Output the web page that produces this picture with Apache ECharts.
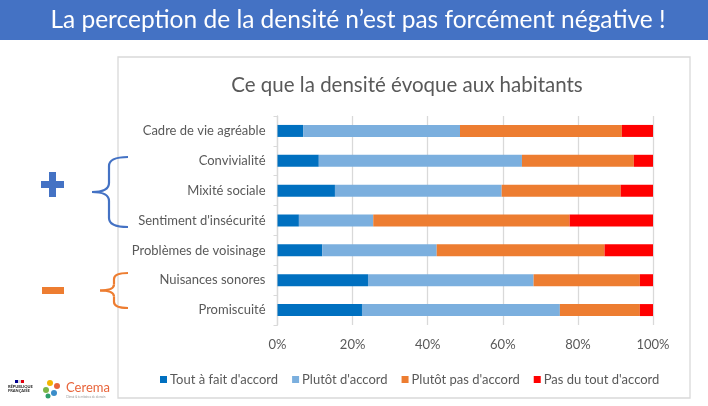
<!DOCTYPE html>
<html>
<head>
<meta charset="utf-8">
<script src="https://cdn.jsdelivr.net/npm/echarts@6/dist/echarts.min.js"></script>
<style>
html,body{margin:0;padding:0;background:#fff;}
#c{width:708px;height:406px;}
</style>
</head>
<body>
<div id="c"></div>
<script>
var categories = ["Cadre de vie agréable","Convivialité","Mixité sociale","Sentiment d'insécurité","Problèmes de voisinage","Nuisances sonores","Promiscuité"];
var seriesNames = ["Tout à fait d'accord","Plutôt d'accord","Plutôt pas d'accord","Pas du tout d'accord"];
var toutAFait = [6.9, 11.0, 15.3, 5.7, 11.9, 24.1, 22.5];
var plutot = [41.7, 54.1, 44.4, 19.8, 30.5, 44.1, 52.7];
var plutotPas = [43.1, 29.8, 31.7, 52.3, 44.7, 28.3, 21.3];
var pasDuTout = [8.3, 5.1, 8.6, 22.2, 12.9, 3.5, 3.5];
var xTicks = [0, 20, 40, 60, 80, 100];
var colors = ["#0070C0","#7BAFDE","#ED7D31","#FF0000"];
var FONT = "Lato, 'Open Sans', sans-serif";
var seriesData = [toutAFait, plutot, plutotPas, pasDuTout];

function brace(xr, xv, xp, y0, y1, color, r) {
  var ym = (y0 + y1) / 2;
  var st = {stroke: color, lineWidth: 2.2, fill: 'none'};
  return [
    {type:'bezierCurve', shape:{x1:xr,y1:y0,x2:xv,y2:y0+r,cpx1:xv,cpy1:y0}, style:st},
    {type:'line', shape:{x1:xv,y1:y0+r,x2:xv,y2:ym-r}, style:st},
    {type:'bezierCurve', shape:{x1:xv,y1:ym-r,x2:xp,y2:ym,cpx1:xv,cpy1:ym}, style:st},
    {type:'bezierCurve', shape:{x1:xp,y1:ym,x2:xv,y2:ym+r,cpx1:xv,cpy1:ym}, style:st},
    {type:'line', shape:{x1:xv,y1:ym+r,x2:xv,y2:y1-r}, style:st},
    {type:'bezierCurve', shape:{x1:xv,y1:y1-r,x2:xr,y2:y1,cpx1:xv,cpy1:y1}, style:st}
  ];
}

var graphics = [
  {type:'rect', shape:{x:0,y:0,width:708,height:40}, style:{fill:'#4472C4'}, z:-1},
  {type:'text', x:358, y:20, style:{text:"La perception de la densité n’est pas forcément négative !", fill:'#fff', font:"24.5px "+FONT, textAlign:'center', textVerticalAlign:'middle'}},
  {type:'rect', shape:{x:118,y:57,width:572,height:341}, style:{fill:'none', stroke:'#D9D9D9', lineWidth:1.3}, z:-1},
  {type:'rect', shape:{x:41,y:181,width:23,height:7}, style:{fill:'#4472C4'}},
  {type:'rect', shape:{x:49,y:172,width:7,height:25}, style:{fill:'#4472C4'}},
  {type:'rect', shape:{x:42,y:287,width:22,height:7}, style:{fill:'#ED7D31'}},
  {type:'rect', shape:{x:15,y:380,width:3,height:3}, style:{fill:'#000091'}},
  {type:'rect', shape:{x:18,y:380,width:3,height:3}, style:{fill:'#dddddd'}},
  {type:'rect', shape:{x:21,y:380,width:3,height:3}, style:{fill:'#E1000F'}},
  {type:'text', x:8, y:385, style:{text:'RÉPUBLIQUE\nFRANÇAISE', fill:'#222', font:'bold 4px '+FONT, lineHeight:4}},
  {type:'circle', shape:{cx:50,cy:383,r:3}, style:{fill:'#F5B400'}},
  {type:'circle', shape:{cx:57,cy:386,r:3}, style:{fill:'#E8643A'}},
  {type:'circle', shape:{cx:46,cy:390,r:3}, style:{fill:'#7AB648'}},
  {type:'circle', shape:{cx:54,cy:393,r:3}, style:{fill:'#3A8DC9'}},
  {type:'circle', shape:{cx:48,cy:396,r:2.5}, style:{fill:'#2E9E6A'}},
  {type:'text', x:66, y:381, style:{text:'Cerema', fill:'#E8643A', font:'13px '+FONT}},
  {type:'text', x:66, y:396, style:{text:'Climat & territoires de demain', fill:'#999', font:'3px '+FONT}}
].concat(brace(128, 109, 92, 157, 227, '#4472C4', 9))
 .concat(brace(128, 114, 100, 273, 308, '#ED7D31', 6));

var chart = echarts.init(document.getElementById('c'));
chart.setOption({
  animation:false,
  textStyle:{fontFamily:FONT},
  title:{
    text:"Ce que la densité évoque aux habitants",
    left:402, top:70, textAlign:'center',
    textStyle:{color:'#595959', fontSize:20.5, fontWeight:'normal', fontFamily:FONT}
  },
  legend:{
    data:seriesNames,
    left:155, top:368,
    itemWidth:7, itemHeight:7, itemGap:14,
    icon:'rect',
    textStyle:{color:'#595959', fontSize:13, fontFamily:FONT, padding:[0,0,0,-2]}
  },
  grid:{left:277.5, right:55, top:116, bottom:81},
  xAxis:{
    type:'value', min:0, max:100, interval:20,
    axisLine:{show:false}, axisTick:{show:false},
    splitLine:{lineStyle:{color:'#D9D9D9', width:1.3}},
    axisLabel:{formatter:function(v){return xTicks.indexOf(v)>=0 ? v+'%' : '';}, color:'#595959', fontSize:13, margin:13, fontFamily:FONT}
  },
  yAxis:{
    type:'category', data:categories, inverse:true,
    axisLine:{lineStyle:{color:'#D9D9D9', width:1.3}},
    axisTick:{show:true, length:4, lineStyle:{color:'#D9D9D9'}},
    axisLabel:{color:'#595959', fontSize:13, margin:12, fontFamily:FONT}
  },
  series: seriesNames.map(function(n,i){
    return {name:n, type:'bar', stack:'s', data:seriesData[i], barWidth:12,
      itemStyle:{color:colors[i]}};
  }),
  graphic: graphics
});
</script>
</body>
</html>
